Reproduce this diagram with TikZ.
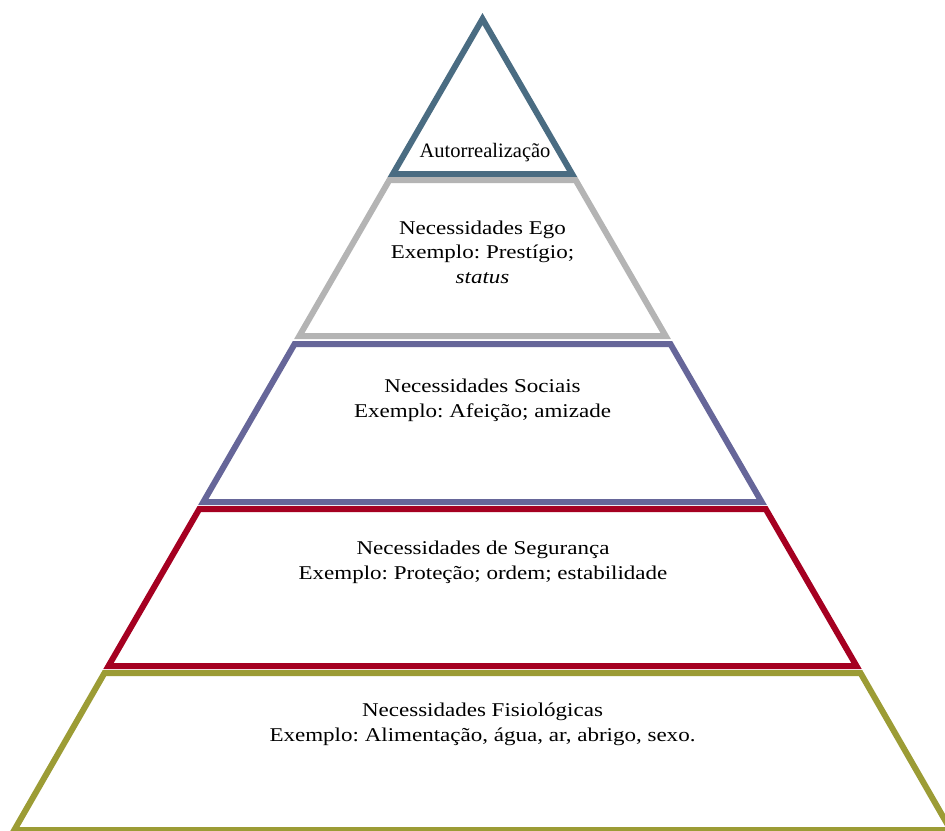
\documentclass[tikz,border=0pt]{standalone}
\usepackage{fontspec}
\setmainfont{Liberation Serif}
\newfontfamily\bodyfont[FakeStretch=1.18]{Liberation Serif}
\frenchspacing
\begin{document}
\begin{tikzpicture}[x=1pt,y=-1pt,
  tier/.style={line width=6pt,line join=miter,fill=white},
  tiertext/.style={align=center,inner sep=0pt,font=\bodyfont\fontsize{19.5}{24.5}\selectfont},
  toptext/.style={inner sep=0pt,font=\fontsize{20.5}{22}\selectfont}]
\definecolor{selfcol}{RGB}{74,108,130}
\definecolor{egocol}{RGB}{180,180,180}
\definecolor{socialcol}{RGB}{102,102,153}
\definecolor{safecol}{RGB}{165,0,33}
\definecolor{physcol}{RGB}{156,156,53}
\useasboundingbox (0,0) rectangle (945,830);
\clip (0,0) rectangle (945,830);
% pyramid tiers, top to bottom
\draw[tier,draw=selfcol] (482.5,19) -- (572.1,174) -- (392.9,174) -- cycle;
\draw[tier,draw=egocol] (389.4,180) -- (575.6,180) -- (665.7,336) -- (299.3,336) -- cycle;
\draw[tier,draw=socialcol] (294.6,344) -- (670.4,344) -- (761.7,502) -- (203.3,502) -- cycle;
\draw[tier,draw=safecol] (199.3,509) -- (765.7,509) -- (856.5,666) -- (108.5,666) -- cycle;
\draw[tier,draw=physcol] (104.5,673) -- (860.5,673) -- (950.7,830) -- (14.3,830) -- cycle;
% labels
\node[toptext] (self) at (485,153) {Autorrealização};
\node[tiertext] (ego) at (482.5,252) {Necessidades Ego\\Exemplo: Prestígio;\\\textit{status}};
\node[tiertext] (social) at (482.5,400.5) {Necessidades Sociais\\Exemplo: Afeição; amizade};
\node[tiertext] (safety) at (483,562.5) {Necessidades de Segurança\\Exemplo: Proteção; ordem; estabilidade};
\node[tiertext] (phys) at (482.5,724.5) {Necessidades Fisiológicas\\Exemplo: Alimentação, água, ar, abrigo, sexo.};
\end{tikzpicture}
\end{document}
